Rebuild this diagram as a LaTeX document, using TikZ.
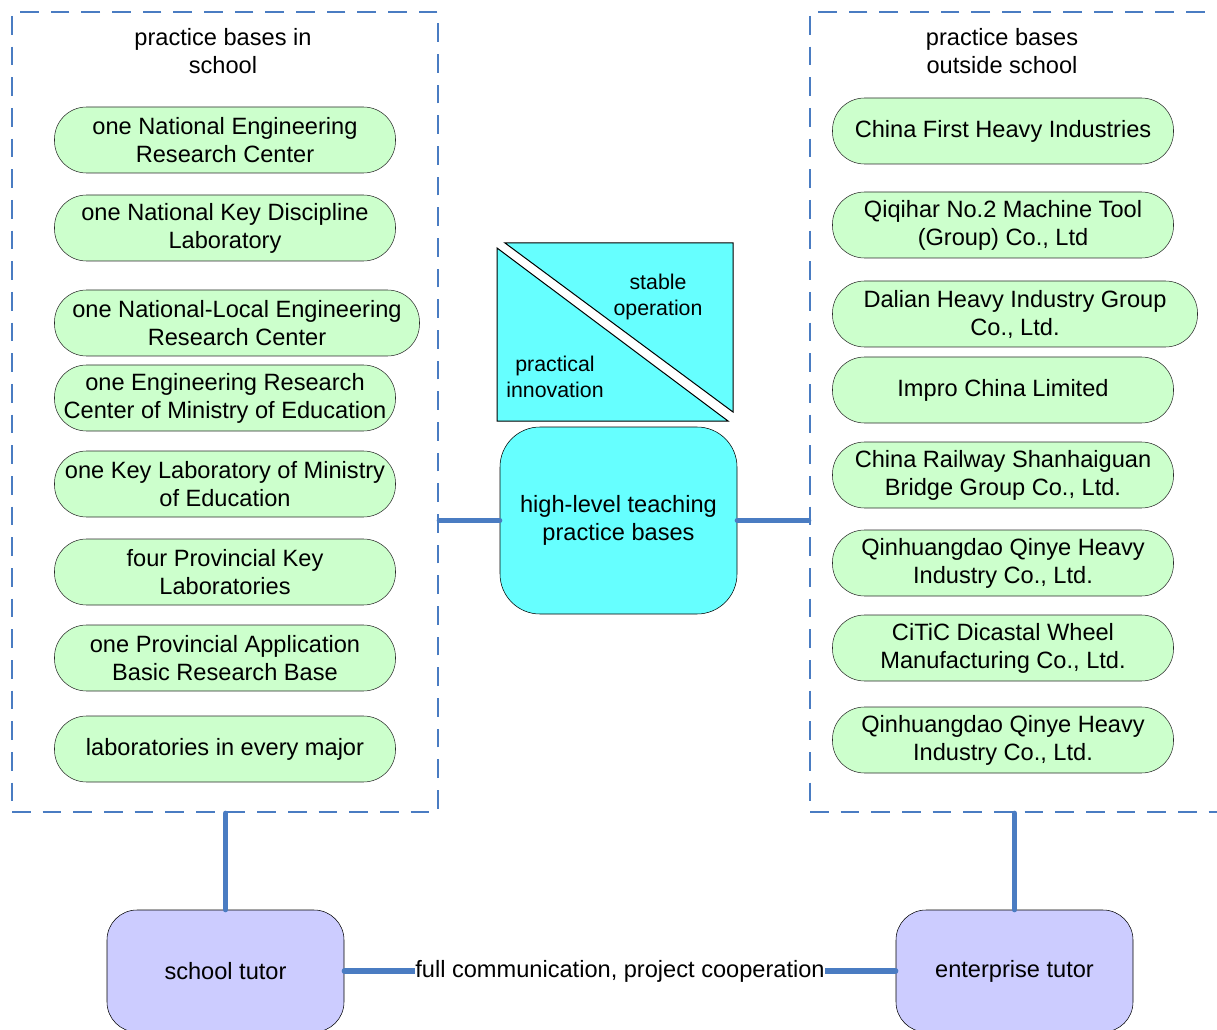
\documentclass[tikz,border=0pt]{standalone}
\usepackage{fontspec}
\setmainfont{Liberation Sans}
\usepackage{xcolor}
\definecolor{lineBlue}{HTML}{4A7CC2}
\definecolor{baseGreen}{HTML}{CCFFCC}
\definecolor{hubCyan}{HTML}{66FFFF}
\definecolor{tutorLilac}{HTML}{CCCCFF}
\definecolor{edgeGray}{HTML}{2A2A2A}
\usepackage{tikz}
\usetikzlibrary{positioning,calc}
\tikzset{%
  baseBox/.style={%
    rectangle,
    rounded corners=24pt,
    draw=edgeGray,
    fill=baseGreen,
    minimum width=255.75pt,
    minimum height=49.5pt,
    inner sep=0pt,
    align=center,
    font=\fontsize{17.7}{21}\selectfont
  },
  frameBox/.style={%
    rectangle,
    draw=lineBlue,
    line width=1.9pt,
    dash pattern=on 14pt off 9pt,
    minimum width=319.5pt,
    minimum height=600pt
  },
  hubBox/.style={%
    rectangle,
    rounded corners=30pt,
    draw=black,
    fill=hubCyan,
    minimum width=177.75pt,
    minimum height=140.25pt,
    align=center,
    font=\fontsize{17.7}{21}\selectfont
  },
  tutorBox/.style={%
    rectangle,
    rounded corners=22.5pt,
    draw=black,
    fill=tutorLilac,
    minimum width=177.75pt,
    minimum height=91.5pt,
    align=center,
    font=\fontsize{17.7}{21}\selectfont
  },
  titleText/.style={%
    align=center,
    font=\fontsize{17.7}{21}\selectfont
  },
  smallText/.style={%
    align=center,
    font=\fontsize{16}{19.5}\selectfont
  },
  linkLine/.style={%
    line width=3.9pt,
    line cap=round,
    color=lineBlue
  }
}

\begin{document}
\begin{tikzpicture}[x=0.75pt,y=-0.75pt]
            \clip (0,0) rectangle (1217,1030);

            % the two dashed frames
            \node[frameBox] (inSchool) at (225,412) {};
            \node[frameBox] (outSchool) at (1023,412) {};
            \node[titleText] (inTitle) at (223,51) {practice bases in\\school};
            \node[titleText] (outTitle) at (1002,51) {practice bases\\outside school};

            % bases in school
            \node[baseBox] (nerc) at (225,140) {one National Engineering\\Research Center};
            \node[baseBox] (nkdl) at (225,228) {one National Key Discipline\\Laboratory};
            \node[baseBox, minimum width=273.75pt] (nlerc) at (237,323) {one National-Local Engineering\\Research Center};
            \node[baseBox] (erc) at (225,398) {one Engineering Research\\Center of Ministry of Education};
            \node[baseBox] (klm) at (225,484) {one Key Laboratory of Ministry\\of Education};
            \node[baseBox] (pkl) at (225,572) {four Provincial Key\\Laboratories};
            \node[baseBox] (pabr) at (225,658) {one Provincial Application\\Basic Research Base};
            \node[baseBox] (labs) at (225,749) {laboratories in every major};

            % bases outside school
            \node[baseBox] (cfhi) at (1003,131) {China First Heavy Industries};
            \node[baseBox] (qmt) at (1003,225) {Qiqihar No.2 Machine Tool\\(Group) Co., Ltd};
            \node[baseBox, minimum width=273.75pt] (dhi) at (1015,314) {Dalian Heavy Industry Group\\Co., Ltd.};
            \node[baseBox] (impro) at (1003,390) {Impro China Limited};
            \node[baseBox] (crsb) at (1003,475) {China Railway Shanhaiguan\\Bridge Group Co., Ltd.};
            \node[baseBox] (qqh) at (1003,563) {Qinhuangdao Qinye Heavy\\Industry Co., Ltd.};
            \node[baseBox] (citic) at (1003,648) {CiTiC Dicastal Wheel\\Manufacturing Co., Ltd.};
            \node[baseBox] (qqhb) at (1003,740) {Qinhuangdao Qinye Heavy\\Industry Co., Ltd.};

            % split square above the hub
            \filldraw[fill=hubCyan, draw=black, line width=0.75pt] (497,248) -- (497,421) -- (728,421) -- cycle;
            \filldraw[fill=hubCyan, draw=black, line width=0.75pt] (505,243) -- (733,243) -- (733,412) -- cycle;
            \node[smallText] (stable) at (658,297) {stable\\operation};
            \node[smallText] (innov) at (555,377) {practical\\innovation};

            \node[hubBox] (hub) at (618.5,520.5) {high-level teaching\\practice bases};

            % tutors
            \node[tutorBox] (schoolTutor) at (225.5,971) {school tutor};
            \node[tutorBox] (entTutor) at (1014.5,971) {enterprise tutor};

            \draw[linkLine] (inSchool.east |- hub.west) -- (hub.west);
            \draw[linkLine] (hub.east) -- (outSchool.west |- hub.east);
            \draw[linkLine] (inSchool.south -| schoolTutor.north) -- (schoolTutor.north);
            \draw[linkLine] (outSchool.south -| entTutor.north) -- (entTutor.north);
            \draw[linkLine] (schoolTutor.east) -- node[fill=white, inner sep=0.5pt, text=black, font=\fontsize{17.7}{21}\selectfont]{full communication, project cooperation} (entTutor.west);
        \end{tikzpicture}
\end{document}
